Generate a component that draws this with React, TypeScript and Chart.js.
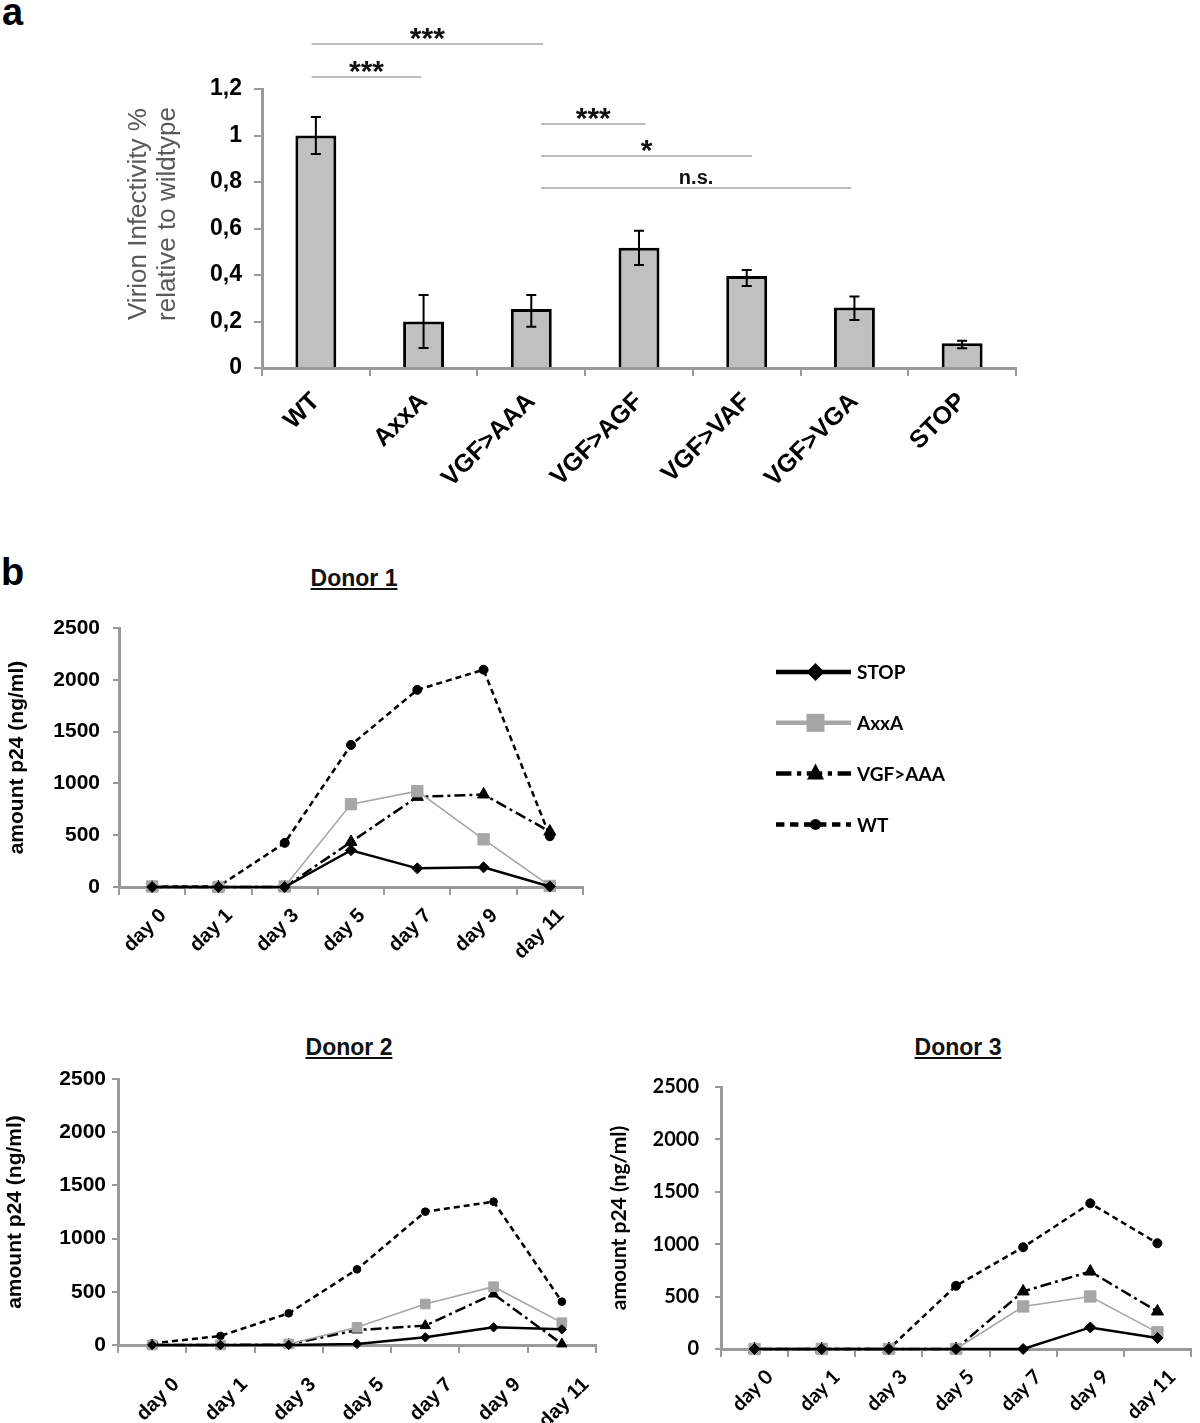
import React, { useEffect, useRef } from 'react';
import { Chart, registerables } from 'chart.js';

Chart.register(...registerables);

const ARIAL = "'Liberation Sans', Arial, Helvetica, sans-serif";
const LATO = "Lato, 'Open Sans', sans-serif";
const AXIS_GREY = '#9a9a9a';

// ---------- Panel a data ----------
const mutants = ['WT', 'AxxA', 'VGF>AAA', 'VGF>AGF', 'VGF>VAF', 'VGF>VGA', 'STOP'];
const infectivity = [1.0, 0.2, 0.254, 0.517, 0.396, 0.26, 0.106];
const errorLow = [0.92, 0.086, 0.177, 0.443, 0.353, 0.206, 0.085];
const errorHigh = [1.08, 0.314, 0.314, 0.59, 0.421, 0.307, 0.117];
const infectivityTitle = ['Virion Infectivity %', 'relative to wildtype'];

// significance brackets (category index from/to, height in y units)
const sigLabels = ['***', '***', '***', '*', 'n.s.'];
const sigFrom = [-0.04, -0.04, 2.09, 2.09, 2.09];
const sigTo = [2.11, 0.98, 3.06, 4.05, 4.97];
const sigHeight = [1.394, 1.252, 1.049, 0.912, 0.774];

// ---------- Panel b data ----------
const days = ['day 0', 'day 1', 'day 3', 'day 5', 'day 7', 'day 9', 'day 11'];
const seriesNames = ['STOP', 'AxxA', 'VGF>AAA', 'WT'];

const donor1Stop = [0, 0, 0, 355, 180, 190, 5];
const donor1Axxa = [5, 0, 5, 800, 925, 460, 10];
const donor1Vgf = [0, 0, 0, 435, 870, 893, 535];
const donor1Wt = [5, 5, 426, 1371, 1903, 2097, 490];

const donor2Stop = [0, 0, 0, 10, 72, 166, 147];
const donor2Axxa = [0, 0, 10, 166, 385, 548, 210];
const donor2Vgf = [0, 0, 5, 141, 182, 479, 10];
const donor2Wt = [15, 85, 298, 711, 1253, 1347, 407];

const donor3Stop = [0, 0, 0, 0, 0, 206, 105];
const donor3Axxa = [0, 0, 0, 0, 406, 501, 159];
const donor3Vgf = [0, 0, 0, 0, 549, 739, 358];
const donor3Wt = [0, 0, 0, 603, 971, 1390, 1009];

const p24Ticks = [0, 500, 1000, 1500, 2000, 2500];

// ---------- plugins ----------
const errorBarPlugin = {
  id: 'errorBars',
  afterDatasetsDraw(chart: any) {
    const { ctx } = chart;
    const y = chart.scales.y;
    const meta = chart.getDatasetMeta(0);
    ctx.save();
    ctx.strokeStyle = '#000';
    ctx.lineWidth = 2;
    meta.data.forEach((bar: any, i: number) => {
      const x = bar.x;
      const y1 = y.getPixelForValue(errorLow[i]);
      const y2 = y.getPixelForValue(errorHigh[i]);
      ctx.beginPath();
      ctx.moveTo(x, y1);
      ctx.lineTo(x, y2);
      ctx.moveTo(x - 5, y1);
      ctx.lineTo(x + 5, y1);
      ctx.moveTo(x - 5, y2);
      ctx.lineTo(x + 5, y2);
      ctx.stroke();
    });
    ctx.restore();
  },
};

const bracketPlugin = {
  id: 'sigBrackets',
  afterDraw(chart: any) {
    const { ctx } = chart;
    const xs = chart.scales.x;
    const ys = chart.scales.y;
    ctx.save();
    sigLabels.forEach((lab, i) => {
      const x1 = xs.getPixelForValue(sigFrom[i]);
      const x2 = xs.getPixelForValue(sigTo[i]);
      const yy = ys.getPixelForValue(sigHeight[i]);
      ctx.strokeStyle = '#a8a8a8';
      ctx.lineWidth = 1.5;
      ctx.beginPath();
      ctx.moveTo(x1, yy);
      ctx.lineTo(x2, yy);
      ctx.stroke();
      const star = lab.includes('*');
      ctx.font = star ? `bold 30px ${ARIAL}` : `bold 20px ${ARIAL}`;
      ctx.fillStyle = '#111';
      ctx.textAlign = 'center';
      ctx.textBaseline = 'alphabetic';
      ctx.fillText(lab, (x1 + x2) / 2, yy + (star ? 4 : -4));
    });
    ctx.restore();
  },
};

function drawMarker(ctx: CanvasRenderingContext2D, style: string, x: number, y: number, r: number, color: string) {
  ctx.fillStyle = color;
  ctx.beginPath();
  if (style === 'circle') {
    ctx.arc(x, y, r, 0, Math.PI * 2);
  } else if (style === 'rect') {
    ctx.rect(x - r, y - r, 2 * r, 2 * r);
  } else if (style === 'rectRot') {
    ctx.moveTo(x, y - r);
    ctx.lineTo(x + r, y);
    ctx.lineTo(x, y + r);
    ctx.lineTo(x - r, y);
    ctx.closePath();
  } else if (style === 'triangle') {
    ctx.moveTo(x, y - r);
    ctx.lineTo(x + r * 0.85, y + r * 0.6);
    ctx.lineTo(x - r * 0.85, y + r * 0.6);
    ctx.closePath();
  }
  ctx.fill();
}

const legendMarkerSize = [9, 9, 10, 5.5];

const sideLegendPlugin = {
  id: 'sideLegend',
  afterDraw(chart: any) {
    const { ctx } = chart;
    const x0 = 776;
    const len = 75;
    const top = 112;
    const gap = 50.8;
    ctx.save();
    chart.data.datasets.forEach((ds: any, i: number) => {
      const y = top + i * gap;
      ctx.strokeStyle = ds.borderColor;
      ctx.lineWidth = 4.5;
      ctx.setLineDash((ds.borderDash || []).map((d: number) => d * 1.4));
      ctx.beginPath();
      ctx.moveTo(x0, y);
      ctx.lineTo(x0 + len, y);
      ctx.stroke();
      ctx.setLineDash([]);
      drawMarker(ctx, ds.pointStyle, x0 + len / 2 + 2, y, legendMarkerSize[i], ds.pointBackgroundColor);
      ctx.fillStyle = '#000';
      ctx.font = `bold 19px ${LATO}`;
      ctx.textAlign = 'left';
      ctx.textBaseline = 'middle';
      ctx.fillText(ds.label, x0 + len + 6, y + 1);
    });
    ctx.restore();
  },
};

// ---------- configs ----------
function barConfig(): any {
  return {
    type: 'bar',
    data: {
      labels: mutants,
      datasets: [
        {
          data: infectivity,
          backgroundColor: '#c0c0c0',
          borderColor: '#000',
          borderWidth: 3,
          barPercentage: 0.38,
          categoryPercentage: 1,
        },
      ],
    },
    plugins: [errorBarPlugin, bracketPlugin],
    options: {
      animation: false,
      responsive: false,
      devicePixelRatio: 1,
      layout: { padding: { top: 89, right: 24, bottom: 0, left: 0 } },
      plugins: { legend: { display: false }, tooltip: { enabled: false } },
      scales: {
        x: {
          grid: {
            display: true,
            drawOnChartArea: false,
            drawTicks: true,
            tickLength: 8,
            color: AXIS_GREY,
            lineWidth: 2,
            offset: true,
          },
          border: { display: true, color: AXIS_GREY, width: 3 },
          ticks: {
            font: { size: 25, weight: 'bold', family: ARIAL },
            color: '#000',
            maxRotation: 45,
            minRotation: 45,
            autoSkip: false,
            padding: 11,
            labelOffset: 0,
          },
          afterFit(s: any) {
            s.height = 150;
          },
        },
        y: {
          min: 0,
          max: 1.2,
          ticks: {
            stepSize: 0.2,
            font: { size: 23, weight: 'bold', family: ARIAL },
            color: '#000',
            padding: 12,
            callback: (v: number) => String(Math.round(v * 10) / 10).replace('.', ','),
          },
          grid: { drawOnChartArea: false, drawTicks: true, tickLength: 8, color: AXIS_GREY, lineWidth: 2 },
          border: { display: true, color: AXIS_GREY, width: 3 },
          title: {
            display: true,
            // leading spaces shift the rotated title slightly upwards, as in the original
            text: infectivityTitle.map((t) => '    ' + t),
            font: { size: 26, family: ARIAL, lineHeight: 1.1 },
            color: '#595959',
            padding: { top: 125, bottom: 0 },
          },
          afterFit(s: any) {
            s.width = 262;
          },
        },
      },
    },
  };
}

interface LineOpts {
  stop: number[];
  axxa: number[];
  vgf: number[];
  wt: number[];
  family: string;
  padding: { top: number; right: number; bottom: number; left: number };
  yWidth: number;
  xHeight: number;
  yTitlePad: number;
  yTickPad: number;
  xLabelOffset: number;
  xLabelPad: number;
  tickSize: number;
  markerScale: number;
  legend: boolean;
}

function lineConfig(o: LineOpts): any {
  const m = o.markerScale;
  const series = [o.stop, o.axxa, o.vgf, o.wt];
  const styles = [
    { borderColor: '#000', borderWidth: 2.5, pointStyle: 'rectRot', pointRadius: 5.5 * m, color: '#000', dash: [] as number[] },
    { borderColor: '#a6a6a6', borderWidth: 1.6, pointStyle: 'rect', pointRadius: 8 * m, color: '#a6a6a6', dash: [] as number[] },
    { borderColor: '#000', borderWidth: 2.5, pointStyle: 'triangle', pointRadius: 7 * m, color: '#000', dash: [11, 4, 3, 4] },
    { borderColor: '#000', borderWidth: 2.5, pointStyle: 'circle', pointRadius: 4.5 * m, color: '#000', dash: [6, 4] },
  ];
  return {
    type: 'line',
    data: {
      labels: days,
      datasets: series.map((d, i) => ({
        label: seriesNames[i],
        data: d,
        borderColor: styles[i].borderColor,
        backgroundColor: styles[i].color,
        borderWidth: styles[i].borderWidth,
        borderDash: styles[i].dash,
        pointStyle: styles[i].pointStyle,
        pointRadius: styles[i].pointRadius,
        pointBackgroundColor: styles[i].color,
        pointBorderColor: styles[i].color,
        pointBorderWidth: 1,
        tension: 0,
        clip: false,
        fill: false,
      })),
    },
    plugins: o.legend ? [sideLegendPlugin] : [],
    options: {
      animation: false,
      responsive: false,
      devicePixelRatio: 1,
      layout: { padding: o.padding },
      plugins: { legend: { display: false }, tooltip: { enabled: false } },
      scales: {
        x: {
          offset: true,
          grid: {
            display: true,
            drawOnChartArea: false,
            drawTicks: true,
            tickLength: 8,
            color: AXIS_GREY,
            lineWidth: 2,
            offset: true,
          },
          border: { display: true, color: AXIS_GREY, width: 3 },
          ticks: {
            font: { size: 20, weight: 'bold', family: o.family },
            color: '#000',
            maxRotation: 45,
            minRotation: 45,
            autoSkip: false,
            padding: o.xLabelPad,
            labelOffset: o.xLabelOffset,
          },
          afterFit(s: any) {
            s.height = o.xHeight;
          },
        },
        y: {
          min: p24Ticks[0],
          max: p24Ticks[p24Ticks.length - 1],
          afterBuildTicks(s: any) {
            s.ticks = p24Ticks.map((v) => ({ value: v }));
          },
          ticks: {
            font: { size: o.tickSize, weight: 'bold', family: o.family },
            color: '#000',
            padding: o.yTickPad,
            callback: (v: number) => String(v),
          },
          grid: { drawOnChartArea: false, drawTicks: true, tickLength: 6, color: AXIS_GREY, lineWidth: 2 },
          border: { display: true, color: AXIS_GREY, width: 3 },
          title: {
            display: true,
            text: 'amount p24 (ng/ml)',
            font: { size: 21, weight: 'bold', family: o.family, lineHeight: 1.2 },
            color: '#000',
            padding: { top: o.yTitlePad, bottom: 0 },
          },
          afterFit(s: any) {
            s.width = o.yWidth;
          },
        },
      },
    },
  };
}

// ---------- components ----------
function ChartBox(props: { make: () => any; left: number; top: number; width: number; height: number }) {
  const ref = useRef<HTMLCanvasElement>(null);
  useEffect(() => {
    const chart = new Chart(ref.current as HTMLCanvasElement, props.make());
    return () => chart.destroy();
  }, []);
  return (
    <canvas
      ref={ref}
      width={props.width}
      height={props.height}
      style={{ position: 'absolute', left: props.left, top: props.top, width: props.width, height: props.height }}
    />
  );
}

const panelLetter: React.CSSProperties = {
  position: 'absolute',
  fontFamily: ARIAL,
  fontWeight: 'bold',
  fontSize: 38,
  lineHeight: '38px',
  color: '#000',
};

function DonorTitle(props: { text: string; cx: number; cy: number }) {
  return (
    <div
      style={{
        position: 'absolute',
        left: props.cx,
        top: props.cy,
        transform: 'translate(-50%, -50%)',
        fontFamily: ARIAL,
        fontWeight: 'bold',
        fontSize: 23,
        lineHeight: '26px',
        textDecoration: 'underline',
        whiteSpace: 'nowrap',
        color: '#111',
      }}
    >
      {props.text}
    </div>
  );
}

export default function App() {
  return (
    <div style={{ position: 'absolute', left: 0, top: 0, width: 1200, height: 1423, background: '#fff', overflow: 'hidden' }}>
      <div style={{ ...panelLetter, left: 2, top: -7 }}>a</div>
      <div style={{ ...panelLetter, left: 1, top: 553 }}>b</div>
      <ChartBox make={barConfig} left={0} top={0} width={1040} height={518} />

      <DonorTitle text="Donor 1" cx={354} cy={578} />
      <ChartBox
        make={() =>
          lineConfig({
            stop: donor1Stop,
            axxa: donor1Axxa,
            vgf: donor1Vgf,
            wt: donor1Wt,
            family: ARIAL,
            padding: { top: 68, right: 417, bottom: 0, left: 0 },
            yWidth: 119,
            xHeight: 113,
            yTitlePad: 5,
            yTickPad: 13,
            xLabelOffset: 11,
            xLabelPad: 9,
            tickSize: 21,
            markerScale: 1,
            legend: true,
          })
        }
        left={0}
        top={560}
        width={1000}
        height={440}
      />

      <DonorTitle text="Donor 2" cx={349} cy={1047} />
      <ChartBox
        make={() =>
          lineConfig({
            stop: donor2Stop,
            axxa: donor2Axxa,
            vgf: donor2Vgf,
            wt: donor2Wt,
            family: ARIAL,
            padding: { top: 49, right: 24, bottom: 0, left: 0 },
            yWidth: 118,
            xHeight: 78,
            yTitlePad: 3,
            yTickPad: 6,
            xLabelOffset: 24,
            xLabelPad: 20,
            tickSize: 21,
            markerScale: 0.85,
            legend: false,
          })
        }
        left={0}
        top={1030}
        width={620}
        height={393}
      />

      <DonorTitle text="Donor 3" cx={958} cy={1047} />
      <ChartBox
        make={() =>
          lineConfig({
            stop: donor3Stop,
            axxa: donor3Axxa,
            vgf: donor3Vgf,
            wt: donor3Wt,
            family: LATO,
            padding: { top: 57, right: 6, bottom: 0, left: 0 },
            yWidth: 121,
            xHeight: 74,
            yTitlePad: 7,
            yTickPad: 16,
            xLabelOffset: 15,
            xLabelPad: 8,
            tickSize: 20,
            markerScale: 1,
            legend: false,
          })
        }
        left={600}
        top={1030}
        width={600}
        height={393}
      />
    </div>
  );
}
